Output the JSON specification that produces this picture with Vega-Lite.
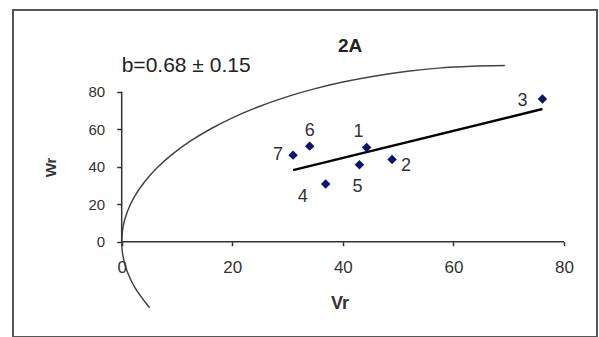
{
  "$schema": "https://vega.github.io/schema/vega-lite/v6.json",
  "width": 584,
  "height": 327,
  "autosize": {"type": "none"},
  "padding": {"left": 13, "top": 10, "right": 2, "bottom": 0},
  "background": "white",
  "config": {
    "view": {"stroke": "#555555", "strokeWidth": 2},
    "font": "Liberation Sans",
    "text": {"font": "Liberation Sans", "color": "#333333"}
  },
  "datasets": {
    "pts": [
      {"id": "1", "Vr": 44.3, "Wr": 50.3},
      {"id": "2", "Vr": 48.9, "Wr": 43.9},
      {"id": "3", "Vr": 76.1, "Wr": 76.1},
      {"id": "4", "Vr": 36.9, "Wr": 30.8},
      {"id": "5", "Vr": 43.0, "Wr": 41.1},
      {"id": "6", "Vr": 34.0, "Wr": 51.0},
      {"id": "7", "Vr": 31.0, "Wr": 46.2}
    ],
    "fit": [
      {"Vr": 31.0, "Wr": 38.2},
      {"Vr": 76.1, "Wr": 70.8}
    ],
    "curve": [
      {"i": 1, "Vr": 5.05, "Wr": -35.2},
      {"i": 2, "Vr": 2.36, "Wr": -24.3},
      {"i": 3, "Vr": 1.05, "Wr": -16.3},
      {"i": 4, "Vr": 0.26, "Wr": -8.2},
      {"i": 5, "Vr": 0.0, "Wr": 0.0},
      {"i": 6, "Vr": 0.26, "Wr": 8.2},
      {"i": 7, "Vr": 1.05, "Wr": 16.3},
      {"i": 8, "Vr": 2.36, "Wr": 24.3},
      {"i": 9, "Vr": 4.18, "Wr": 32.1},
      {"i": 10, "Vr": 6.49, "Wr": 39.7},
      {"i": 11, "Vr": 9.29, "Wr": 47.0},
      {"i": 12, "Vr": 12.53, "Wr": 53.9},
      {"i": 13, "Vr": 16.22, "Wr": 60.4},
      {"i": 14, "Vr": 20.3, "Wr": 66.5},
      {"i": 15, "Vr": 24.75, "Wr": 72.0},
      {"i": 16, "Vr": 29.55, "Wr": 77.0},
      {"i": 17, "Vr": 34.65, "Wr": 81.4},
      {"i": 18, "Vr": 40.01, "Wr": 85.2},
      {"i": 19, "Vr": 45.6, "Wr": 88.3},
      {"i": 20, "Vr": 51.37, "Wr": 90.8},
      {"i": 21, "Vr": 57.27, "Wr": 92.6},
      {"i": 22, "Vr": 63.26, "Wr": 93.6},
      {"i": 23, "Vr": 69.3, "Wr": 94.0}
    ]
  },
  "layer": [
    {
      "data": {"name": "curve"},
      "mark": {"type": "line", "interpolate": "catmull-rom", "color": "#444444", "strokeWidth": 1.5},
      "encoding": {
        "x": {
          "field": "Vr", "type": "quantitative",
          "scale": {"domain": [-19.66, 85.97], "nice": false, "zero": false},
          "axis": {
            "values": [0, 20, 40, 60, 80], "domain": false, "grid": false,
            "offset": -95.3, "tickSize": 4, "tickColor": "#333333", "tickWidth": 1.5,
            "labelFontSize": 17, "labelColor": "#333333", "labelPadding": 14,
            "title": null
          }
        },
        "y": {
          "field": "Wr", "type": "quantitative",
          "scale": {"domain": [-50.8, 123.6], "nice": false, "zero": false},
          "axis": {
            "values": [0, 20, 40, 60, 80], "domain": false, "grid": false,
            "offset": -108.7, "tickSize": 5, "tickColor": "#333333", "tickWidth": 1.5,
            "labelFontSize": 15, "labelColor": "#333333", "labelPadding": 12,
            "title": null
          }
        },
        "order": {"field": "i", "type": "quantitative"}
      }
    },
    {
      "data": {"values": [{"t": "axis"}]},
      "mark": {"type": "rule", "color": "#333333", "strokeWidth": 1.5},
      "encoding": {
        "x": {"datum": 0, "type": "quantitative"},
        "y": {"datum": 0, "type": "quantitative"},
        "y2": {"datum": 80}
      }
    },
    {
      "data": {"values": [{"t": "axis"}]},
      "mark": {"type": "rule", "color": "#333333", "strokeWidth": 1.5},
      "encoding": {
        "y": {"datum": 0, "type": "quantitative"},
        "x": {"datum": 0, "type": "quantitative"},
        "x2": {"datum": 80}
      }
    },
    {
      "data": {"name": "fit"},
      "mark": {"type": "line", "color": "#000000", "strokeWidth": 2.5},
      "encoding": {
        "x": {"field": "Vr", "type": "quantitative"},
        "y": {"field": "Wr", "type": "quantitative"}
      }
    },
    {
      "data": {"name": "pts"},
      "mark": {"type": "point", "shape": "diamond", "filled": true, "color": "#10106e", "size": 90, "opacity": 1},
      "encoding": {
        "x": {"field": "Vr", "type": "quantitative"},
        "y": {"field": "Wr", "type": "quantitative"}
      }
    },
    {
      "data": {"name": "pts"},
      "transform": [{"filter": "datum.id == '1'"}],
      "mark": {"type": "text", "fontSize": 18, "dx": -8, "dy": -15, "baseline": "middle"},
      "encoding": {"x": {"field": "Vr", "type": "quantitative"}, "y": {"field": "Wr", "type": "quantitative"}, "text": {"field": "id"}}
    },
    {
      "data": {"name": "pts"},
      "transform": [{"filter": "datum.id == '2'"}],
      "mark": {"type": "text", "fontSize": 18, "dx": 14, "dy": 7, "baseline": "middle"},
      "encoding": {"x": {"field": "Vr", "type": "quantitative"}, "y": {"field": "Wr", "type": "quantitative"}, "text": {"field": "id"}}
    },
    {
      "data": {"name": "pts"},
      "transform": [{"filter": "datum.id == '3'"}],
      "mark": {"type": "text", "fontSize": 18, "dx": -20, "dy": 2, "baseline": "middle"},
      "encoding": {"x": {"field": "Vr", "type": "quantitative"}, "y": {"field": "Wr", "type": "quantitative"}, "text": {"field": "id"}}
    },
    {
      "data": {"name": "pts"},
      "transform": [{"filter": "datum.id == '4'"}],
      "mark": {"type": "text", "fontSize": 18, "dx": -23, "dy": 13, "baseline": "middle"},
      "encoding": {"x": {"field": "Vr", "type": "quantitative"}, "y": {"field": "Wr", "type": "quantitative"}, "text": {"field": "id"}}
    },
    {
      "data": {"name": "pts"},
      "transform": [{"filter": "datum.id == '5'"}],
      "mark": {"type": "text", "fontSize": 18, "dx": -2, "dy": 22, "baseline": "middle"},
      "encoding": {"x": {"field": "Vr", "type": "quantitative"}, "y": {"field": "Wr", "type": "quantitative"}, "text": {"field": "id"}}
    },
    {
      "data": {"name": "pts"},
      "transform": [{"filter": "datum.id == '6'"}],
      "mark": {"type": "text", "fontSize": 18, "dx": 0, "dy": -15, "baseline": "middle"},
      "encoding": {"x": {"field": "Vr", "type": "quantitative"}, "y": {"field": "Wr", "type": "quantitative"}, "text": {"field": "id"}}
    },
    {
      "data": {"name": "pts"},
      "transform": [{"filter": "datum.id == '7'"}],
      "mark": {"type": "text", "fontSize": 18, "dx": -15, "dy": 0, "baseline": "middle"},
      "encoding": {"x": {"field": "Vr", "type": "quantitative"}, "y": {"field": "Wr", "type": "quantitative"}, "text": {"field": "id"}}
    },
    {
      "data": {"values": [{"t": "2A"}]},
      "mark": {"type": "text", "fontSize": 19, "fontWeight": "bold", "color": "#222222", "baseline": "middle"},
      "encoding": {"x": {"datum": 41.3, "type": "quantitative"}, "y": {"datum": 104.4, "type": "quantitative"}, "text": {"field": "t"}}
    },
    {
      "data": {"values": [{"t": "b=0.68 ± 0.15"}]},
      "mark": {"type": "text", "fontSize": 21, "color": "#222222", "align": "left", "baseline": "middle"},
      "encoding": {"x": {"datum": 0, "type": "quantitative"}, "y": {"datum": 93.7, "type": "quantitative"}, "text": {"field": "t"}}
    },
    {
      "data": {"values": [{"t": "Vr"}]},
      "mark": {"type": "text", "fontSize": 18, "fontWeight": "bold", "color": "#333333", "baseline": "middle"},
      "encoding": {"x": {"datum": 39.5, "type": "quantitative"}, "y": {"datum": -33.2, "type": "quantitative"}, "text": {"field": "t"}}
    },
    {
      "data": {"values": [{"t": "Wr"}]},
      "mark": {"type": "text", "fontSize": 15, "fontWeight": "bold", "color": "#333333", "baseline": "middle", "angle": 270},
      "encoding": {"x": {"datum": -12.8, "type": "quantitative"}, "y": {"datum": 39.6, "type": "quantitative"}, "text": {"field": "t"}}
    }
  ]
}
